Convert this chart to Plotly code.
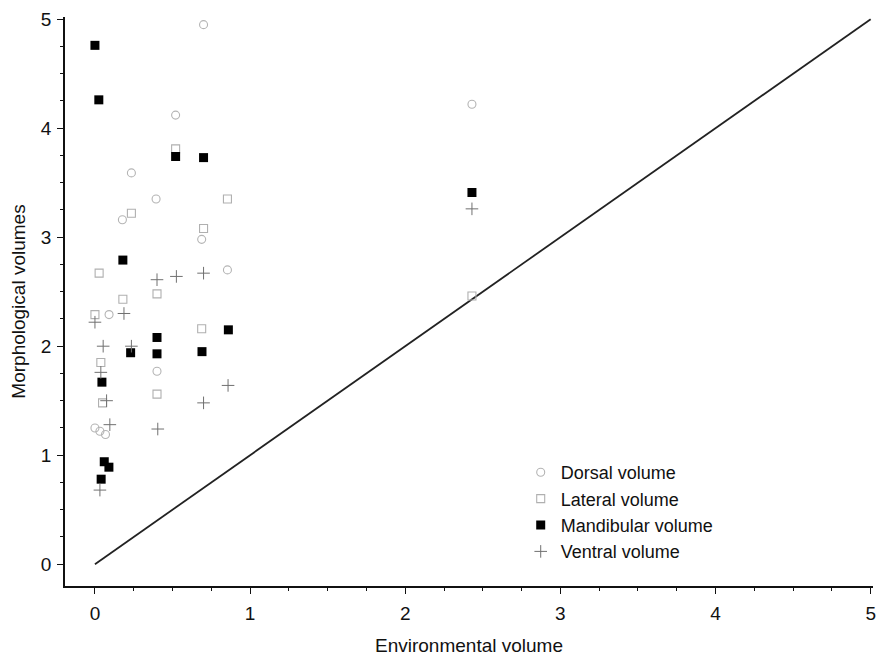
import plotly.graph_objects as go

dorsal_x = [0.70, 0.52, 0.235, 0.394, 0.177, 0.688, 0.854, 0.091, 0.40, 0.0, 0.032, 0.068, 2.43]
dorsal_y = [4.95, 4.12, 3.59, 3.35, 3.16, 2.98, 2.70, 2.29, 1.77, 1.25, 1.22, 1.19, 4.22]

lateral_x = [0.52, 0.854, 0.235, 0.70, 0.027, 0.18, 0.40, 0.0, 0.688, 0.038, 0.40, 0.049, 2.43]
lateral_y = [3.81, 3.35, 3.22, 3.08, 2.67, 2.43, 2.48, 2.29, 2.16, 1.85, 1.56, 1.48, 2.46]

mandibular_x = [0.0, 0.025, 0.52, 0.70, 0.18, 0.40, 0.23, 0.40, 0.69, 0.86, 0.045, 0.06, 0.09, 0.04, 2.43]
mandibular_y = [4.76, 4.26, 3.74, 3.73, 2.79, 2.08, 1.94, 1.93, 1.95, 2.15, 1.67, 0.94, 0.89, 0.78, 3.41]

ventral_x = [0.40, 0.525, 0.70, 0.187, 0.0, 0.053, 0.235, 0.038, 0.858, 0.70, 0.075, 0.096, 0.405, 0.032, 2.43]
ventral_y = [2.61, 2.64, 2.67, 2.30, 2.22, 2.00, 2.00, 1.76, 1.64, 1.48, 1.50, 1.28, 1.24, 0.68, 3.26]

line_x = [0, 5]
line_y = [0, 5]

FONT = "Liberation Sans, Arial, sans-serif"

fig = go.Figure()
fig.add_trace(go.Scatter(x=line_x, y=line_y, mode="lines",
                         line=dict(color="#222222", width=1.8), showlegend=False,
                         hoverinfo="skip"))
fig.add_trace(go.Scatter(x=dorsal_x, y=dorsal_y, mode="markers", name="Dorsal volume",
                         marker=dict(symbol="circle-open", size=8, color="#b4b4b4",
                                     line=dict(width=1.1, color="#b4b4b4"))))
fig.add_trace(go.Scatter(x=lateral_x, y=lateral_y, mode="markers", name="Lateral volume",
                         marker=dict(symbol="square-open", size=8, color="#b0b0b0",
                                     line=dict(width=1.1, color="#b0b0b0"))))
fig.add_trace(go.Scatter(x=mandibular_x, y=mandibular_y, mode="markers", name="Mandibular volume",
                         marker=dict(symbol="square", size=9, color="#000000",
                                     line=dict(width=0))))
fig.add_trace(go.Scatter(x=ventral_x, y=ventral_y, mode="markers", name="Ventral volume",
                         marker=dict(symbol="cross-thin-open", size=9, color="#707070",
                                     line=dict(width=1, color="#707070"))))

axis_common = dict(
    showgrid=False, zeroline=False, showline=True, linecolor="#111111", linewidth=1.5,
    ticks="outside", ticklen=6, tickwidth=1.3, tickcolor="#111111",
    tickfont=dict(family=FONT, size=19, color="#111111"),
    dtick=1, tick0=0, ticklabeloverflow="allow",
    minor=dict(dtick=0.25, tick0=0, ticks="outside", ticklen=3, tickcolor="#111111", tickwidth=1),
    mirror=False,
)

fig.update_layout(
    width=877, height=658,
    margin=dict(l=65, r=1, t=17, b=72),
    paper_bgcolor="white", plot_bgcolor="white",
    font=dict(family=FONT, size=19, color="#111111"),
    xaxis=dict(range=[-0.193, 5.015], ticklabelstandoff=3,
               title=dict(text="Environmental volume", standoff=16,
               font=dict(family=FONT, size=19)), **axis_common),
    yaxis=dict(range=[-0.2, 5.02], ticklabelstandoff=2,
               title=dict(text="Morphological volumes", standoff=10,
               font=dict(family=FONT, size=19)), **axis_common),
    legend=dict(x=0.564, y=0.232, xanchor="left", yanchor="top", bgcolor="rgba(0,0,0,0)",
                font=dict(family=FONT, size=18, color="#111111"), itemwidth=30,
                tracegroupgap=0),
    showlegend=True,
)

fig.write_html("out.html")
